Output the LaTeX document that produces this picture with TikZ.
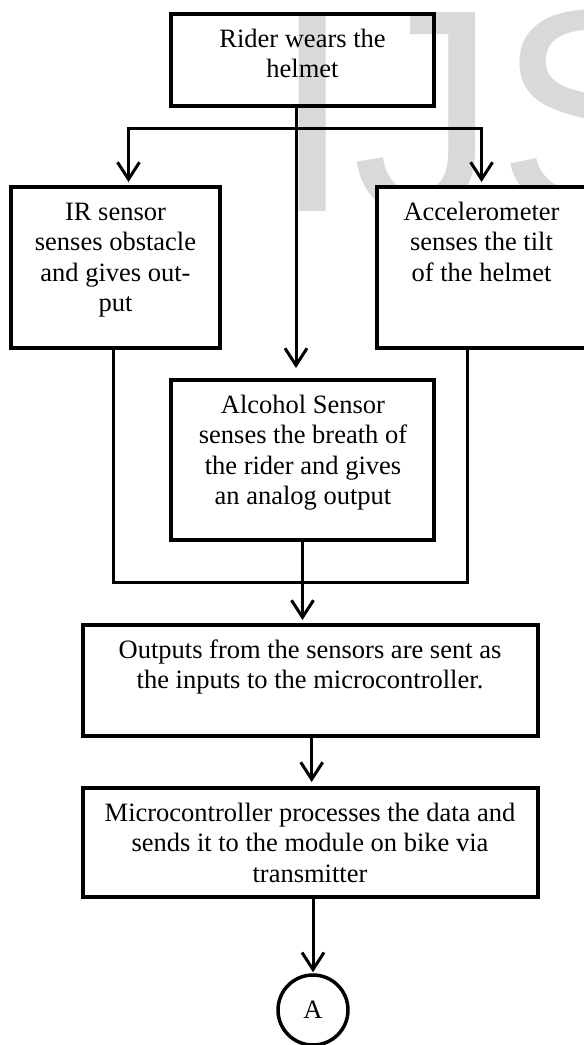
\documentclass[tikz,border=0pt]{standalone}
\usepackage{fontspec}
\setmainfont{Liberation Serif}
\newfontfamily\wmfont{Liberation Sans}
\usetikzlibrary{arrows.meta}
\definecolor{wm}{RGB}{217,217,217}
\begin{document}
\begin{tikzpicture}[x=1pt,y=-1pt,
  box/.style={draw, line width=4pt, inner sep=0pt},
  txt/.style={font=\fontsize{26.5}{30.5}\selectfont, align=center, inner sep=0pt, anchor=north},
  conn/.style={line width=3pt},
  arr/.style={conn, -{Straight Barb[length=17pt,width=22pt]}},
  darr/.style={conn, {Straight Barb[length=17pt,width=22pt]}-{Straight Barb[length=17pt,width=22pt]}}
]
\useasboundingbox (0,0) rectangle (584,1045);
\clip (0,0) rectangle (584,1045);
% watermark
\node[font=\wmfont\fontsize{289}{289}\selectfont, text=wm, anchor=base west, inner sep=0pt] (wmark) at (272,211) {IJS};
% boxes
\node[box, minimum width=263pt, minimum height=92pt] (top) at (302.5,60) {};
\node[box, fill=white, minimum width=209pt, minimum height=161pt] (ir) at (115.5,267.5) {};
\node[box, fill=white, minimum width=223pt, minimum height=161pt] (acc) at (488.5,267.5) {};
\node[box, fill=white, minimum width=263pt, minimum height=160pt] (alc) at (302.5,460) {};
\node[box, fill=white, minimum width=455pt, minimum height=111pt] (out) at (310.5,680.5) {};
\node[box, fill=white, minimum width=455pt, minimum height=109pt] (mic) at (310.5,842.5) {};
\node[circle, draw, line width=3.5pt, minimum size=70pt, inner sep=0pt, font=\fontsize{26.5}{30.5}\selectfont] (A) at (313,1010) {A};
% texts
\node[txt] (ttop) at (302.5,25.65) {\strut Rider wears the\\helmet};
\node[txt] (tir) at (115.5,198.65) {\strut IR sensor\\senses obstacle\\and gives out-\\put};
\node[txt] (tacc) at (481.5,198.65) {\strut Accelerometer\\senses the tilt\\of the helmet};
\node[txt] (talc) at (303,391.65) {\strut Alcohol Sensor\\senses the breath of\\the rider and gives\\an analog output};
\node[txt] (tout) at (310,636.65) {\strut Outputs from the sensors are sent as\\the inputs to the microcontroller.};
\node[txt] (tmic) at (310,799.65) {\strut Microcontroller processes the data and\\sends it to the module on bike via\\transmitter};
% helper coordinates
\coordinate (xs) at (296,0);
\coordinate (bar) at (296,128);
\coordinate (xa) at (128.5,0);
\coordinate (xb) at (481.6,0);
\coordinate (xl) at (113.6,0);
\coordinate (xr) at (467.4,0);
\coordinate (jn) at (302.4,582);
\coordinate (xo) at (311.7,0);
% connectors
\draw[arr, shorten >=10pt] (top.south -| xs) -- (alc.north -| xs);
\draw[darr, shorten >=3pt, shorten <=3pt] (ir.north -| xa) -- (xa |- bar) -- (xb |- bar) -- (acc.north -| xb);
\draw[conn] (ir.south -| xl) |- (jn) -| (acc.south -| xr);
\draw[arr, shorten >=3pt] (alc.south) -- (out.north -| alc.south);
\draw[arr, shorten >=4pt] (out.south -| xo) -- (mic.north -| xo);
\draw[arr, shorten >=1pt] (mic.south -| A.north) -- (A.north);
\end{tikzpicture}
\end{document}
